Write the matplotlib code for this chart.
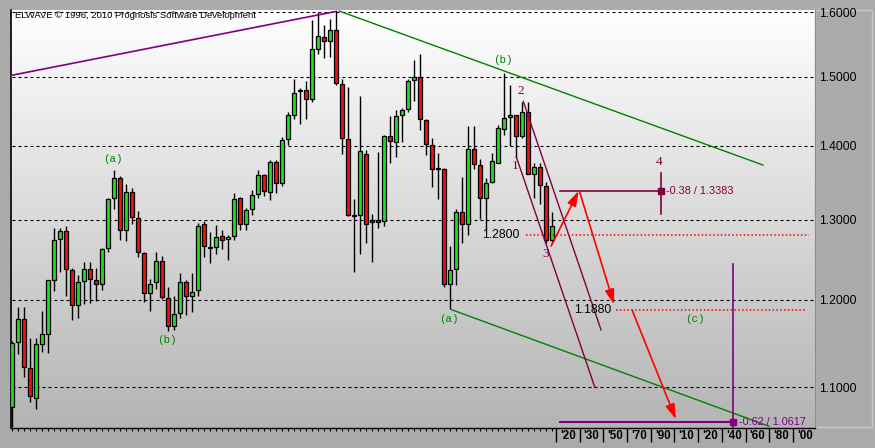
import matplotlib
matplotlib.use('Agg')

import numpy as np
import matplotlib.pyplot as plt
from matplotlib.colors import LinearSegmentedColormap
from matplotlib.patches import Rectangle

# ── Dados: velas (abertura, máxima, mínima, fechamento) ──────────────────────
opens = [1.0785, 1.1504, 1.1773, 1.1216, 1.0880, 1.1481, 1.1596, 1.2240, 1.2760, 1.2859,
         1.2361, 1.1938, 1.2224, 1.2374, 1.2237, 1.2199, 1.2635, 1.3293, 1.3563, 1.2872,
         1.3374, 1.3023, 1.2573, 1.2087, 1.2212, 1.2473, 1.2025, 1.1689, 1.1850, 1.2212,
         1.2050, 1.2125, 1.2946, 1.2655, 1.2648, 1.2797, 1.2760, 1.2797, 1.3293, 1.2946,
         1.3145, 1.3347, 1.3604, 1.3374, 1.3780, 1.3496, 1.4098, 1.4432, 1.4782, 1.4811,
         1.4665, 1.5431, 1.5615, 1.5554, 1.5723, 1.4898, 1.4098, 1.3063, 1.3063, 1.3888,
         1.2996, 1.2996, 1.2984, 1.4141, 1.4054, 1.4432, 1.4520, 1.4956, 1.5000, 1.4360,
         1.4010, 1.3685, 1.3685, 1.2199, 1.2374, 1.3104, 1.2946, 1.3955, 1.3739, 1.3293,
         1.3509, 1.3766, 1.4243, 1.4403, 1.4432, 1.4141, 1.4476, 1.3618, 1.3712, 1.3455,
         1.2747]
highs = [1.1516, 1.1919, 1.1919, 1.1550, 1.1554, 1.1865, 1.2240, 1.2892, 1.2892, 1.2925,
         1.2386, 1.2303, 1.2461, 1.2461, 1.2386, 1.2635, 1.3293, 1.3662, 1.3585, 1.3473,
         1.3428, 1.3122, 1.2590, 1.2253, 1.2585, 1.2536, 1.2162, 1.2054, 1.2324, 1.2237,
         1.2324, 1.2959, 1.2984, 1.2847, 1.2934, 1.2872, 1.2809, 1.3361, 1.3300, 1.3158,
         1.3401, 1.3672, 1.3618, 1.3807, 1.3807, 1.4127, 1.4476, 1.4961, 1.4840, 1.4942,
         1.5882, 1.6000, 1.5800, 1.5892, 1.6015, 1.4971, 1.4854, 1.3280, 1.4709, 1.3942,
         1.3077, 1.3915, 1.4150, 1.4418, 1.4505, 1.4534, 1.4971, 1.5262, 1.5354, 1.4374,
         1.4112, 1.3901, 1.3690, 1.2660, 1.3145, 1.3577, 1.4281, 1.4281, 1.3820, 1.3563,
         1.3901, 1.4301, 1.5062, 1.4884, 1.4440, 1.4622, 1.4622, 1.3766, 1.3766, 1.3509,
         1.3104]
lows = [1.0566, 1.1369, 1.1112, 1.0834, 1.0764, 1.1396, 1.1384, 1.2107, 1.2336, 1.2054,
        1.1765, 1.1781, 1.1957, 1.1965, 1.1988, 1.2125, 1.2593, 1.3145, 1.2738, 1.2730,
        1.2946, 1.2531, 1.1972, 1.1869, 1.2128, 1.2012, 1.1638, 1.1649, 1.1781, 1.1822,
        1.1857, 1.2050, 1.2531, 1.2456, 1.2560, 1.2626, 1.2486, 1.2747, 1.2872, 1.2872,
        1.3063, 1.3293, 1.3320, 1.3266, 1.3361, 1.3455, 1.4010, 1.4374, 1.4316, 1.4374,
        1.4622, 1.5354, 1.5292, 1.5308, 1.4884, 1.3888, 1.3050, 1.2336, 1.2560, 1.2710,
        1.2461, 1.2897, 1.2922, 1.3766, 1.3847, 1.4054, 1.4476, 1.4636, 1.4229, 1.3874,
        1.3442, 1.3280, 1.2162, 1.1888, 1.2187, 1.2710, 1.2809, 1.3685, 1.3009, 1.2884,
        1.3496, 1.3766, 1.4156, 1.3996, 1.3834, 1.4112, 1.3618, 1.3293, 1.3212, 1.2710,
        1.2710]
closes = [1.1493, 1.1773, 1.1227, 1.0905, 1.1481, 1.1596, 1.2237, 1.2747, 1.2859, 1.2374,
          1.1938, 1.2212, 1.2374, 1.2249, 1.2199, 1.2623, 1.3280, 1.3563, 1.2872, 1.3374,
          1.3036, 1.2585, 1.2087, 1.2199, 1.2473, 1.2037, 1.1689, 1.1839, 1.2212, 1.2050,
          1.2100, 1.2922, 1.2660, 1.2643, 1.2785, 1.2747, 1.2785, 1.3280, 1.2946, 1.3131,
          1.3334, 1.3591, 1.3388, 1.3780, 1.3496, 1.4083, 1.4432, 1.4767, 1.4811, 1.4665,
          1.5431, 1.5631, 1.5554, 1.5723, 1.4913, 1.4112, 1.3063, 1.3050, 1.3928, 1.2946,
          1.2971, 1.2971, 1.4141, 1.4068, 1.4418, 1.4505, 1.4942, 1.5000, 1.4374, 1.4025,
          1.3685, 1.3690, 1.2199, 1.2361, 1.3104, 1.2946, 1.3955, 1.3753, 1.3293, 1.3496,
          1.3793, 1.4258, 1.4389, 1.4432, 1.4141, 1.4476, 1.3618, 1.3712, 1.3469, 1.2747,
          1.2922]

# eixo de preços (escala log) e rótulos do eixo de tempo futuro
price_ticks = [1.1, 1.2, 1.3, 1.4, 1.5, 1.6]
future_labels = ["'20", "'30", "'50", "'70", "'90", "'10", "'20", "'40", "'60", "'80", "'00"]
future_start, future_step = 90.6, 3.95

# ── Marcações da análise (índice da vela, preço) ─────────────────────────────
purple_trend = [(-0.4, 1.5018), (54.0, 1.6015)]
green_upper = [(54.5, 1.6020), (125.1, 1.3734)]
green_lower = [(73.07, 1.1888), (126.1, 1.0577)]
channel_a = [(85.17, 1.4636), (98.12, 1.1646)]
channel_b = [(84.0, 1.3847), (97.07, 1.1000)]
arrows = [((89.8, 1.2664), (94.4, 1.3383)),
          ((94.5, 1.3383), (100.3, 1.1946)),
          ((103.3, 1.1880), (110.6, 1.0651))]
level_128 = (1.2800, 85.6, 132.8)
level_1188 = (1.1880, 100.6, 132.4)
target_4 = (1.3383, 91.28, 108.17, 1.3622, 1.3077)     # preço, x0, x1, vlinha topo/base
target_c = (1.0617, 91.28, 120.17, 1.2440)
wave_green = [("(a)", 16.8, 1.3811), ("(b)", 25.8, 1.1531), ("(b)", 81.8, 1.5251),
              ("(a)", 72.8, 1.1773), ("(c)", 113.8, 1.1773)]
wave_num = [("1", 83.8, 1.3716), ("2", 84.7, 1.4790), ("3", 88.95, 1.2564), ("4", 107.8, 1.3770)]

GREEN_C, RED_C = '#1fe01f', '#ee1111'
MAROON, PURPLE, DKGREEN = '#800040', '#800080', '#008000'

# ── Figura ───────────────────────────────────────────────────────────────────
W, H = 875, 448
fig = plt.figure(figsize=(W / 100, H / 100), dpi=100)
fig.patch.set_facecolor('#ababab')

left, right, top, bottom = 11, 815, 10, 428.3
pos = [left / W, 1 - bottom / H, (right - left) / W, (bottom - top) / H]

# fundo em degradê
bg = fig.add_axes(pos, zorder=0)
cmap = LinearSegmentedColormap.from_list('bg', ['#b4b4b4', '#ffffff'])
bg.imshow(np.linspace(0, 1, 256).reshape(-1, 1), aspect='auto', cmap=cmap,
          origin='lower', extent=[0, 1, 0, 1])
bg.axis('off')

ax = fig.add_axes(pos, zorder=1)
ax.set_facecolor('none')
ax.set_yscale('log')
ax.set_xlim(-0.217, 133.78)
ax.set_ylim(1.0555, 1.6037)

# grade
ax.hlines(price_ticks, -1, 140, colors='black', linestyles=(0, (2.7, 2.7)), lw=0.8, zorder=1)

# velas
o, h, l, c = map(np.array, (opens, highs, lows, closes))
idx = np.arange(len(o))
up = c >= o
ax.vlines(idx, l, h, colors='black', lw=1, zorder=2)
body_lo = np.minimum(o, c)
body_h = np.maximum(np.abs(c - o), 0.0015)
ax.bar(idx, body_h, bottom=body_lo, width=0.72,
       color=np.where(up, GREEN_C, RED_C), edgecolor='black', lw=0.9, zorder=3)

# linhas de tendência / canal
for pts, col, lw in [(purple_trend, PURPLE, 1.2), (green_upper, DKGREEN, 1.0),
                     (green_lower, DKGREEN, 1.0), (channel_a, MAROON, 1.0),
                     (channel_b, MAROON, 1.0)]:
    xs, ys = zip(*pts)
    ax.plot(xs, ys, color=col, lw=lw, zorder=4)

# níveis pontilhados
for lvl, x0, x1 in (level_128, level_1188):
    ax.plot([x0, x1], [lvl, lvl], color='red', ls=(0, (1, 1.5)), lw=1.1, zorder=4)
ax.text(84.6, 1.2800, "1.2800", ha='right', va='center', fontsize=8.7,
        family='Liberation Sans', zorder=5)
ax.text(99.8, 1.1880, "1.1880", ha='right', va='center', fontsize=8.7,
        family='Liberation Sans', zorder=5)

# alvo da onda 4
p4, x0, x1, v0, v1 = target_4
ax.plot([x0, x1], [p4, p4], color=MAROON, lw=1.2, zorder=4)
ax.plot([x1, x1], [v0, v1], color=MAROON, lw=1.2, zorder=4)
ax.plot([x1], [p4], marker='s', ms=4.5, color=MAROON, zorder=5)
ax.text(x1 + 0.7, p4, "-0.38 / 1.3383", ha='left', va='center', fontsize=7.8,
        color=MAROON, family='Liberation Sans', zorder=5)

# alvo da onda (c)
pc, x0, x1, vtop = target_c
ax.plot([x0, x1], [pc, pc], color=PURPLE, lw=1.5, zorder=4)
ax.plot([x1, x1], [vtop, 1.05], color=PURPLE, lw=1.2, zorder=4)
ax.plot([x1], [pc], marker='s', ms=4.5, color=PURPLE, zorder=5)
ax.text(x1 + 1.0, pc, "-0.62 / 1.0617", ha='left', va='center', fontsize=7.8,
        color=PURPLE, family='Liberation Sans', zorder=5)

# setas da projeção
for start, tip in arrows:
    ax.annotate('', xy=tip, xytext=start, zorder=5,
                arrowprops=dict(arrowstyle='-|>,head_length=0.9,head_width=0.28',
                                color='red', lw=1.2, mutation_scale=10,
                                shrinkA=0, shrinkB=0))

# rótulos das ondas
for txt, x, y in wave_green:
    ax.text(x, y, txt, ha='center', va='center', fontsize=7.8, color=DKGREEN,
            family='Liberation Mono', zorder=5)
for txt, x, y in wave_num:
    ax.text(x, y, txt, ha='center', va='center', fontsize=9.5, color=MAROON,
            family='Liberation Serif', zorder=5)

# eixos
ax.yaxis.tick_right()
ax.set_yticks(price_ticks)
ax.set_yticklabels([f"{p:.4f}" for p in price_ticks], fontsize=8.7, family='Liberation Sans')
ax.yaxis.set_minor_locator(matplotlib.ticker.NullLocator())
ax.tick_params(axis='y', length=0, pad=3)
ax.set_xticks(np.arange(0, 91))
ax.set_xticklabels([])
ax.tick_params(axis='x', length=2.2, width=0.8, direction='out', color='black')
ax.spines['top'].set_visible(False)
ax.spines['right'].set_color('#8c8c8c')
ax.spines['left'].set_linewidth(1.2)
ax.spines['bottom'].set_linewidth(1.0)

# eixo de tempo futuro
xt = ax.get_xaxis_transform()
fut_x = future_start + future_step * np.arange(len(future_labels))
ax.vlines(fut_x, -0.033, 0, colors='black', lw=1.0, transform=xt, clip_on=False)
for x, lab in zip(fut_x, future_labels):
    ax.text(x + 2.0, -0.018, lab, transform=xt, ha='center', va='center',
            fontsize=8.4, fontweight='bold', family='Liberation Sans', clip_on=False)

# moldura do painel de preços
fig.add_artist(Rectangle((815 / W, 1 - 427 / H), 57 / W, 417 / H, transform=fig.transFigure,
                         fill=False, edgecolor='#c8c8c8', lw=1))

fig.text(15 / W, 1 - 15 / H, "ELWAVE © 1996, 2010 Prognosis Software Development",
         ha='left', va='center', fontsize=6.8, family='Liberation Sans', zorder=6)

fig.savefig('out.png', dpi=100, facecolor=fig.get_facecolor())
